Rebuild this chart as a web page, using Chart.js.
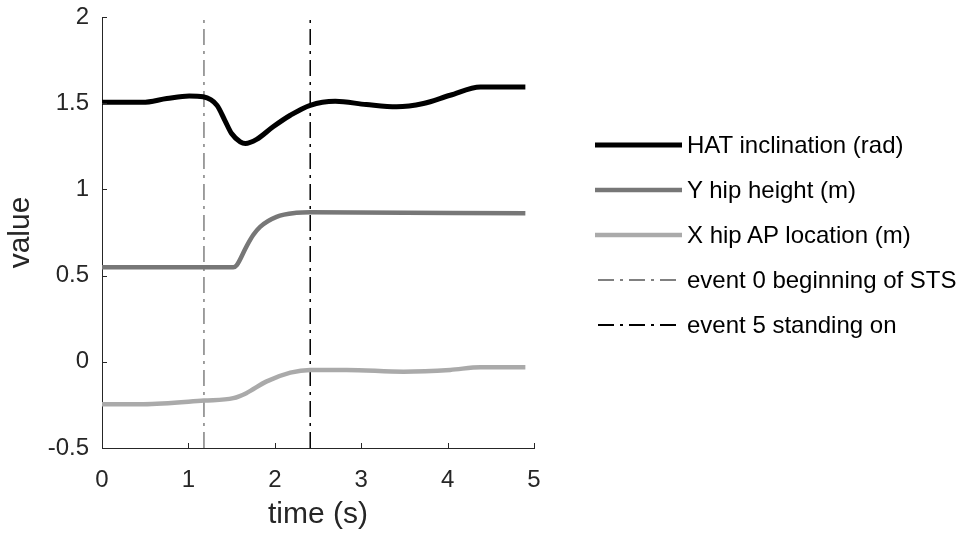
<!DOCTYPE html>
<html lang="en">
<head>
  <meta charset="UTF-8" />
  <title>STS kinematics</title>
  <script src="https://cdn.jsdelivr.net/npm/chart.js"></script>
  <style>
    html, body { margin: 0; padding: 0; background: #fff; }
    #wrap { position: relative; width: 960px; height: 533px; overflow: hidden; }
    #legend { position: absolute; left: 595px; top: 145px; font-family: "Liberation Sans", Arial, sans-serif; font-size: 24px; color: #000; white-space: nowrap; }
    .item { display: flex; align-items: center; height: 45px; margin-top: -22.5px; margin-bottom: 22.5px; }
    .item svg { margin-right: 5px; flex: none; }
  </style>
</head>
<body>
  <div id="wrap">
    <canvas id="chart" width="960" height="533"></canvas>
    <div id="legend"></div>
  </div>

  <script>
    // HAT inclination (rad)
    const hatTime = [0, 0.47, 0.75, 1.01, 1.17, 1.33, 1.42, 1.5, 1.6, 1.66, 1.79, 1.98, 2.18, 2.41, 2.7, 3.06, 3.41, 3.72, 4.03, 4.38, 4.9];
    const hatValue = [1.505, 1.505, 1.527, 1.542, 1.537, 1.488, 1.402, 1.324, 1.276, 1.266, 1.29, 1.363, 1.43, 1.488, 1.511, 1.492, 1.479, 1.498, 1.546, 1.594, 1.594];

    // Y hip height (m)
    const yHipTime = [0, 1.52, 1.56, 1.67, 1.75, 1.83, 2.02, 2.25, 2.41, 4.9];
    const yHipValue = [0.548, 0.548, 0.561, 0.667, 0.735, 0.783, 0.841, 0.864, 0.867, 0.861];

    // X hip AP location (m)
    const xHipTime = [0, 0.48, 1.18, 1.52, 1.67, 1.9, 2.18, 2.41, 2.83, 3.49, 4.03, 4.38, 4.9];
    const xHipValue = [-0.246, -0.246, -0.225, -0.211, -0.182, -0.115, -0.063, -0.047, -0.047, -0.057, -0.047, -0.031, -0.031];

    // events (s)
    const event0Time = 1.18;
    const event5Time = 2.41;

    const yTicks = [-0.5, 0, 0.5, 1, 1.5, 2];
    const xTicks = [0, 1, 2, 3, 4, 5];

    const font = "'Liberation Sans', Arial, sans-serif";
    const dashDot = [16, 6, 3, 6];

    function pts(t, v) {
      return t.map((x, i) => ({ x: x, y: v[i] }));
    }
    function vline(t) {
      return [{ x: t, y: yTicks[0] }, { x: t, y: yTicks[yTicks.length - 1] }];
    }

    // inward ticks, matlab style
    const innerTicks = {
      id: 'innerTicks',
      afterDraw(chart) {
        const ctx = chart.ctx;
        const xs = chart.scales.x, ys = chart.scales.y;
        const a = chart.chartArea;
        ctx.save();
        ctx.strokeStyle = '#262626';
        ctx.lineWidth = 1;
        ctx.beginPath();
        xTicks.forEach(t => {
          const px = Math.round(xs.getPixelForValue(t)) + 0.5;
          ctx.moveTo(px, a.bottom); ctx.lineTo(px, a.bottom - 5);
        });
        yTicks.forEach(t => {
          const py = Math.round(ys.getPixelForValue(t)) + 0.5;
          ctx.moveTo(a.left, py); ctx.lineTo(a.left + 5, py);
        });
        ctx.stroke();
        ctx.restore();
      }
    };

    const chart = new Chart(document.getElementById('chart'), {
      type: 'line',
      data: {
        datasets: [
          { label: 'HAT inclination (rad)', data: pts(hatTime, hatValue), borderColor: '#000000', borderWidth: 5 },
          { label: 'Y hip height (m)', data: pts(yHipTime, yHipValue), borderColor: '#777777', borderWidth: 4.5 },
          { label: 'X hip AP location (m)', data: pts(xHipTime, xHipValue), borderColor: '#aaaaaa', borderWidth: 4.5 },
          { label: 'event 0 beginning of STS', data: vline(event0Time), borderColor: '#808080', borderWidth: 1.5, borderDash: dashDot, tension: 0, cubicInterpolationMode: 'default' },
          { label: 'event 5 standing on', data: vline(event5Time), borderColor: '#000000', borderWidth: 1.5, borderDash: dashDot, tension: 0, cubicInterpolationMode: 'default' }
        ]
      },
      options: {
        responsive: false,
        animation: false,
        elements: {
          point: { radius: 0 },
          line: { cubicInterpolationMode: 'monotone', fill: false }
        },
        layout: { padding: { left: 0, top: 17, right: 426, bottom: 0 } },
        plugins: { legend: { display: false }, tooltip: { enabled: false } },
        scales: {
          x: {
            type: 'linear', min: 0, max: 5,
            afterBuildTicks: s => { s.ticks = xTicks.map(v => ({ value: v })); },
            afterFit: s => { s.height = 85; s.paddingLeft = 0; s.paddingRight = 0; },
            grid: { display: true, drawOnChartArea: false, drawTicks: false },
            border: { display: true, color: '#262626', width: 1 },
            ticks: { color: '#262626', font: { family: font, size: 24 }, padding: 18, maxRotation: 0, callback: v => String(v) },
            title: { display: true, text: 'time (s)', color: '#262626', font: { family: font, size: 30 }, padding: { top: 0, bottom: 0 } }
          },
          y: {
            type: 'linear', min: -0.5, max: 2,
            afterBuildTicks: s => { s.ticks = yTicks.map(v => ({ value: v })); },
            afterFit: s => { s.width = 102; s.paddingTop = 0; s.paddingBottom = 0; },
            grid: { display: true, drawOnChartArea: false, drawTicks: false },
            border: { display: true, color: '#262626', width: 1 },
            ticks: { color: '#262626', font: { family: font, size: 24 }, padding: 13, callback: v => String(v) },
            title: { display: true, text: 'value', color: '#262626', font: { family: font, size: 30 }, padding: { top: 3, bottom: 0 } }
          }
        }
      },
      plugins: [innerTicks]
    });

    // legend drawn from the datasets
    const legend = document.getElementById('legend');
    chart.data.datasets.forEach(ds => {
      const item = document.createElement('div');
      item.className = 'item';
      const dash = ds.borderDash ? ds.borderDash.join(',') : 'none';
      const x1 = ds.borderDash ? 3 : 0;
      const x2 = ds.borderDash ? 83 : 87;
      item.innerHTML =
        '<svg width="87" height="10"><line x1="' + x1 + '" y1="5" x2="' + x2 + '" y2="5" stroke="' + ds.borderColor +
        '" stroke-width="' + (ds.borderDash ? 2 : ds.borderWidth) + '" stroke-dasharray="' + dash + '"/></svg><span>' + ds.label + '</span>';
      legend.appendChild(item);
    });
  </script>
</body>
</html>
